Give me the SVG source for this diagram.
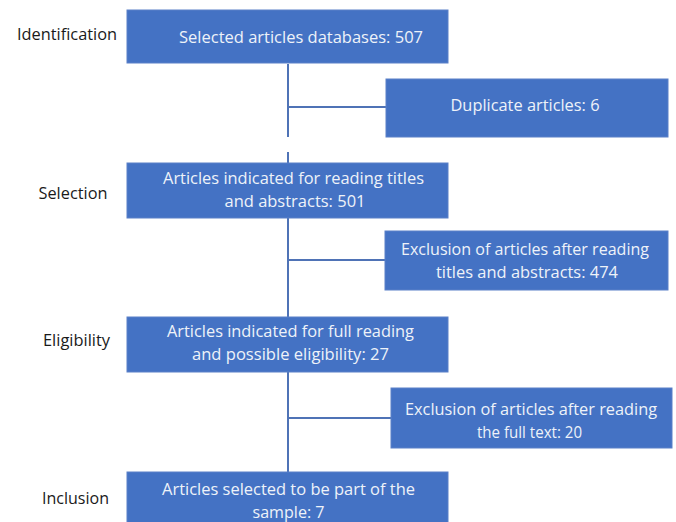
<svg xmlns="http://www.w3.org/2000/svg" width="676" height="522" viewBox="0 0 676 522">
<style>
.box{fill:#4472c4;stroke:#5b80c8;stroke-width:1}
.bt{font-family:"Open Sans","Noto Sans",sans-serif;font-size:16.5px;fill:#eef2f9;text-anchor:middle}
.lb{font-family:"Open Sans","Noto Sans",sans-serif;font-size:17px;fill:#1a1a1a;text-anchor:middle}
.ln{stroke:#4f73b6;stroke-width:2;fill:none}
</style>
<rect width="676" height="522" fill="#ffffff"/>
<g id="labels">
<text class="lb" x="67" y="40" textLength="100" lengthAdjust="spacingAndGlyphs">Identification</text>
<text class="lb" x="73" y="199" textLength="69" lengthAdjust="spacingAndGlyphs">Selection</text>
<text class="lb" x="76.5" y="346" textLength="67" lengthAdjust="spacingAndGlyphs">Eligibility</text>
<text class="lb" x="75.5" y="504" textLength="67" lengthAdjust="spacingAndGlyphs">Inclusion</text>
</g>
<g id="connectors">
<path class="ln" d="M288 64 V137 M288 152 V163 M288 107 H386"/>
<path class="ln" d="M288 218 V317 M288 260 H385"/>
<path class="ln" d="M288 372 V472 M288 418 H391"/>
</g>
<g id="n1">
<rect class="box" x="127" y="10" width="321" height="53"/>
<text class="bt" x="301" y="43" textLength="244" lengthAdjust="spacingAndGlyphs">Selected articles databases: 507</text>
</g>
<g id="n2">
<rect class="box" x="386" y="79" width="282" height="58"/>
<text class="bt" x="525" y="111" textLength="149" lengthAdjust="spacingAndGlyphs">Duplicate articles: 6</text>
</g>
<g id="n3">
<rect class="box" x="127" y="163" width="321" height="55"/>
<text class="bt" x="293.5" y="184" textLength="261" lengthAdjust="spacingAndGlyphs">Articles indicated for reading titles</text>
<text class="bt" x="295" y="207" textLength="141" lengthAdjust="spacingAndGlyphs">and abstracts: 501</text>
</g>
<g id="n4">
<rect class="box" x="385" y="231" width="283" height="59"/>
<text class="bt" x="525" y="255" textLength="248" lengthAdjust="spacingAndGlyphs">Exclusion of articles after reading</text>
<text class="bt" x="527" y="278" textLength="182" lengthAdjust="spacingAndGlyphs">titles and abstracts: 474</text>
</g>
<g id="n5">
<rect class="box" x="127" y="317" width="321" height="55"/>
<text class="bt" x="290.5" y="337" textLength="247" lengthAdjust="spacingAndGlyphs">Articles indicated for full reading</text>
<text class="bt" x="290.5" y="360" textLength="197" lengthAdjust="spacingAndGlyphs">and possible eligibility: 27</text>
</g>
<g id="n6">
<rect class="box" x="391" y="388" width="281" height="60"/>
<text class="bt" x="531" y="415" textLength="252" lengthAdjust="spacingAndGlyphs">Exclusion of articles after reading</text>
<text class="bt" x="529.5" y="438" textLength="105" lengthAdjust="spacingAndGlyphs">the full text: 20</text>
</g>
<g id="n7">
<rect class="box" x="127" y="472" width="321" height="55"/>
<text class="bt" x="288.5" y="495" textLength="253" lengthAdjust="spacingAndGlyphs">Articles selected to be part of the</text>
<text class="bt" x="288.5" y="518" textLength="72" lengthAdjust="spacingAndGlyphs">sample: 7</text>
</g>
</svg>
